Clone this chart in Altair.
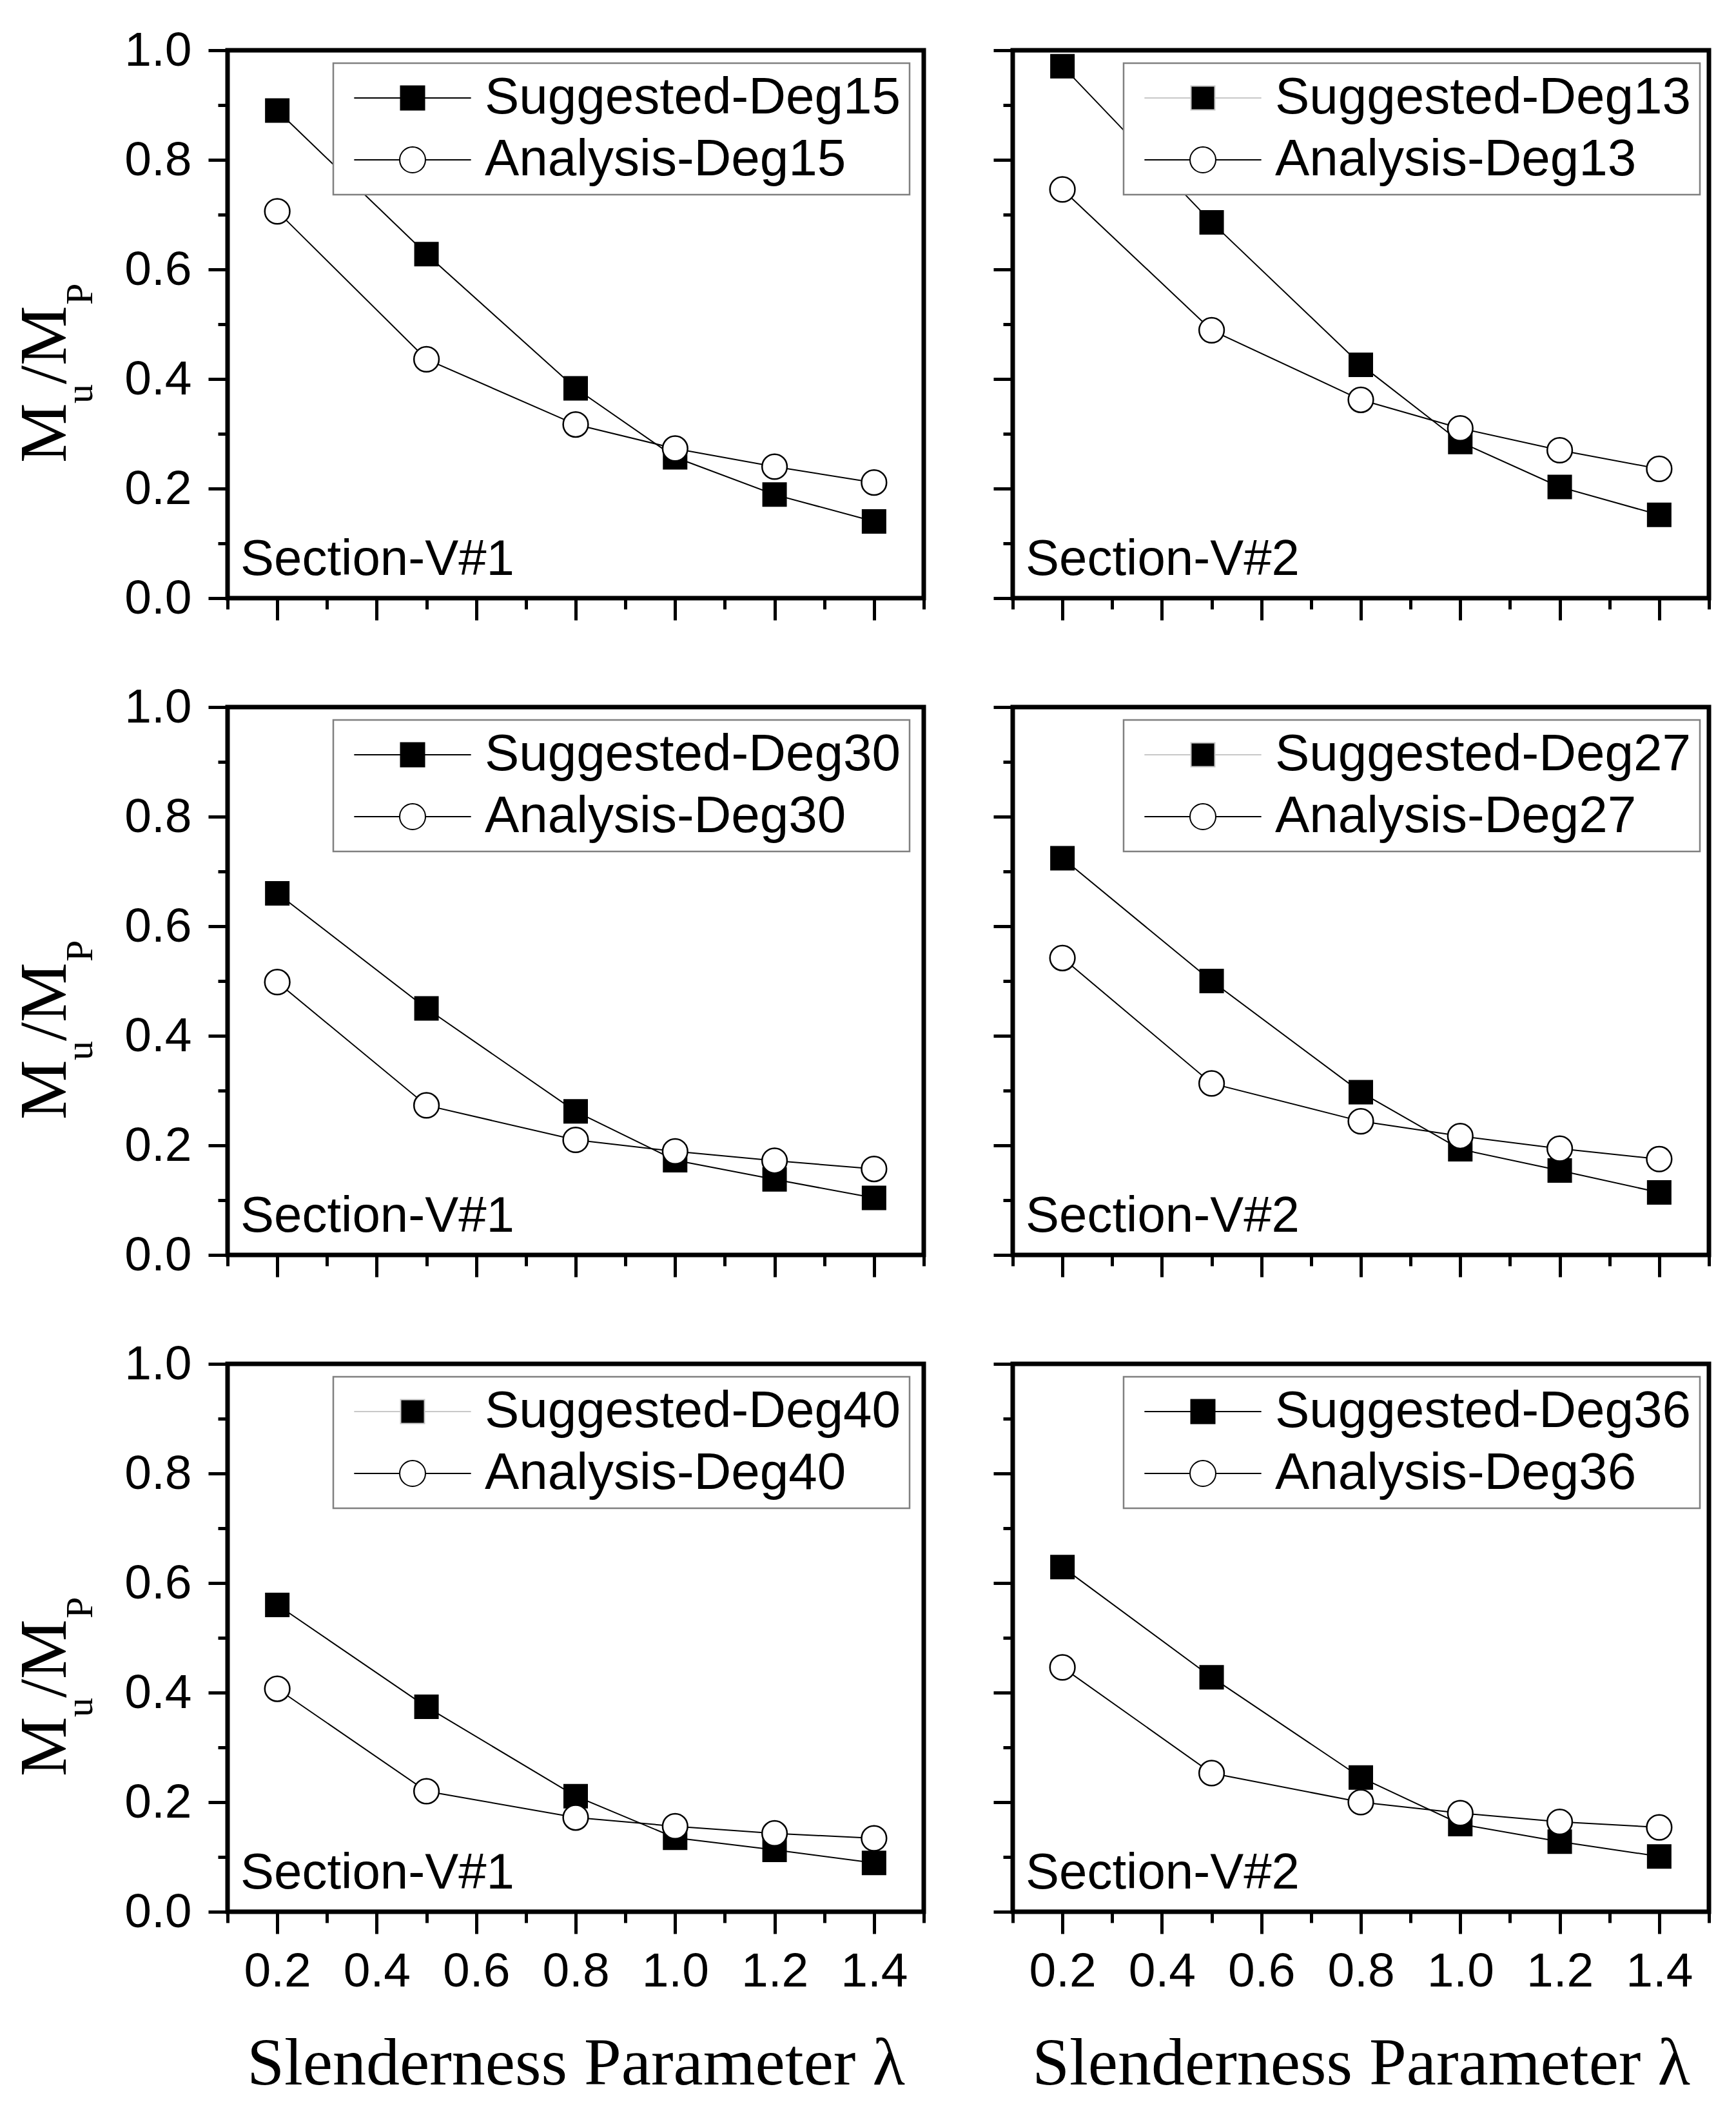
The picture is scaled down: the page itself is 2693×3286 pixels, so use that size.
import altair as alt
import pandas as pd

# slenderness parameter values and axis ticks
lam = [0.2, 0.5, 0.8, 1.0, 1.2, 1.4]
x_ticks = [0.1, 0.2, 0.3, 0.4, 0.5, 0.6, 0.7, 0.8, 0.9, 1.0, 1.1, 1.2, 1.3, 1.4, 1.5]
y_ticks = [0.0, 0.1, 0.2, 0.3, 0.4, 0.5, 0.6, 0.7, 0.8, 0.9, 1.0]

# Mu/Mp
v1_deg15_sug = [0.890, 0.628, 0.383, 0.257, 0.189, 0.140]
v1_deg15_ana = [0.706, 0.436, 0.317, 0.273, 0.240, 0.211]
v2_deg13_sug = [0.971, 0.686, 0.426, 0.285, 0.203, 0.152]
v2_deg13_ana = [0.746, 0.489, 0.362, 0.310, 0.270, 0.236]
v1_deg30_sug = [0.660, 0.450, 0.262, 0.173, 0.138, 0.104]
v1_deg30_ana = [0.498, 0.273, 0.210, 0.189, 0.172, 0.157]
v2_deg27_sug = [0.724, 0.500, 0.297, 0.193, 0.154, 0.114]
v2_deg27_ana = [0.542, 0.313, 0.244, 0.217, 0.194, 0.175]
v1_deg40_sug = [0.560, 0.374, 0.211, 0.135, 0.113, 0.089]
v1_deg40_ana = [0.407, 0.220, 0.172, 0.156, 0.143, 0.134]
v2_deg36_sug = [0.629, 0.428, 0.245, 0.160, 0.128, 0.101]
v2_deg36_ana = [0.446, 0.253, 0.200, 0.180, 0.164, 0.154]

panels = [
    ("15", "Section-V#1", v1_deg15_sug, v1_deg15_ana),
    ("13", "Section-V#2", v2_deg13_sug, v2_deg13_ana),
    ("30", "Section-V#1", v1_deg30_sug, v1_deg30_ana),
    ("27", "Section-V#2", v2_deg27_sug, v2_deg27_ana),
    ("40", "Section-V#1", v1_deg40_sug, v1_deg40_ana),
    ("36", "Section-V#2", v2_deg36_sug, v2_deg36_ana),
]
# panels whose "Suggested" legend sample line is drawn pale
pale_key = ["13", "27", "40"]

SANS = "Liberation Sans"
SERIF = "Liberation Serif"
W, H = 1080, 850

MAJOR = "round(datum.value * 10) % 2 == 0"
LABEL_EXPR = MAJOR + " ? format(datum.value, '.1f') : ''"

# legend symbols: line through a filled square / an open circle
SQ_PATH = "M-4.9,0H-1M1,0H4.9M-1,-1H1V1H-1Z"
CI_PATH = "M-4.9,0H-1.08M1.08,0H4.9M-1.08,0A1.08,1.08,0,1,1,1.08,0A1.08,1.08,0,1,1,-1.08,0Z"


def x_axis(show):
    kw = dict(values=x_ticks, labelExpr=LABEL_EXPR,
              tickSize={"condition": {"test": MAJOR, "value": 34}, "value": 17},
              tickWidth=5, tickColor="black", domain=False, grid=False,
              labels=show, labelFont=SANS, labelFontSize=75, labelColor="black",
              labelPadding=22, labelFlush=False, labelOverlap=False)
    if show:
        kw.update(title="Slenderness Parameter λ", titleFont=SERIF, titleFontSize=104,
                  titleFontWeight="normal", titleColor="black", titlePadding=55)
    else:
        kw["title"] = None
    return alt.Axis(**kw)


def y_axis(show):
    return alt.Axis(values=y_ticks, labelExpr=LABEL_EXPR,
                    tickSize={"condition": {"test": MAJOR, "value": 30}, "value": 15},
                    tickWidth=5, tickColor="black", domain=False, grid=False,
                    labels=show, labelFont=SANS, labelFontSize=75, labelColor="black",
                    labelPadding=26, labelFlush=False, labelOverlap=False, title=None)


def note(text, x, y, size, font, **kw):
    return alt.Chart(alt.Data(values=[{}])).mark_text(
        text=text, font=font, fontSize=size, color="black",
        align="left", baseline="alphabetic", **kw
    ).encode(x=alt.value(x), y=alt.value(y))


def panel(deg, section, sug, ana, left, bottom):
    s_name = "Suggested-Deg" + deg
    a_name = "Analysis-Deg" + deg
    df = pd.DataFrame({
        "lam": lam * 2,
        "ratio": sug + ana,
        "series": [s_name] * len(lam) + [a_name] * len(lam),
    })
    X = alt.X("lam:Q", scale=alt.Scale(domain=[0.1, 1.5], nice=False), axis=x_axis(bottom))
    Y = alt.Y("ratio:Q", scale=alt.Scale(domain=[0, 1], nice=False), axis=y_axis(left))

    lines = alt.Chart(df).mark_line(color="black", strokeWidth=2).encode(
        x=X, y=Y, detail="series:N")
    squares = alt.Chart(df).transform_filter(alt.datum.series == s_name).mark_point(
        shape="square", filled=True, color="black", size=1444, opacity=1).encode(x=X, y=Y)
    circles = alt.Chart(df).transform_filter(alt.datum.series == a_name).mark_point(
        shape="circle", filled=True, fill="white", stroke="black", strokeWidth=2.5,
        size=1500, opacity=1).encode(x=X, y=Y)

    dom = [s_name, a_name]
    key_stroke = "#c8c8c8" if deg in pale_key else "black"
    leg = alt.Legend(title=None, orient="none", legendX=164 if left else 172, legendY=20,
                     symbolOpacity=1)
    key = alt.Chart(df).mark_point(filled=True, opacity=0, clip=True,
                                   strokeWidth=2).encode(
        x=X, y=Y,
        fill=alt.Fill("series:N", scale=alt.Scale(domain=dom, range=["black", "white"]),
                      legend=leg),
        stroke=alt.Stroke("series:N", scale=alt.Scale(domain=dom, range=[key_stroke, "black"]),
                          legend=leg),
        shape=alt.Shape("series:N", scale=alt.Scale(domain=dom, range=[SQ_PATH, CI_PATH]),
                        legend=leg),
    )

    layers = [lines, squares, circles, key, note(section, 20, H - 36, 78, SANS)]
    if left:
        layers += [
            note("M", -251, 640, 104, SERIF, angle=270),
            note("u", -210, 548, 60, SERIF, angle=270),
            note("/M", -251, 518, 104, SERIF, angle=270),
            note("P", -210, 395, 60, SERIF, angle=270),
        ]
    return alt.layer(*layers).properties(width=W, height=H)


rows = []
for r in range(3):
    cells = [panel(*panels[2 * r + c], left=(c == 0), bottom=(r == 2)) for c in range(2)]
    rows.append(
        alt.hconcat(*cells, spacing=96)
        .resolve_scale(fill="independent", stroke="independent", shape="independent")
        .resolve_legend(fill="independent", stroke="independent", shape="independent")
    )

chart = alt.vconcat(*rows, spacing=86).resolve_scale(
    fill="independent", stroke="independent", shape="independent"
).resolve_legend(
    fill="independent", stroke="independent", shape="independent"
).configure_view(
    stroke="black", strokeWidth=7
).configure_legend(
    labelFont=SANS, labelFontSize=80, labelColor="black", labelLimit=0,
    padding=14, rowPadding=16, strokeColor="#808080", strokeWidth=2.5,
    fillColor="white", symbolSize=1369, symbolStrokeWidth=2,
    symbolOffset=69, labelOffset=72,
).properties(
    padding={"left": 7, "top": 29, "right": 5, "bottom": 5},
    background="white",
)

chart.save("out.html", embed_options={"renderer": "svg", "actions": False})
